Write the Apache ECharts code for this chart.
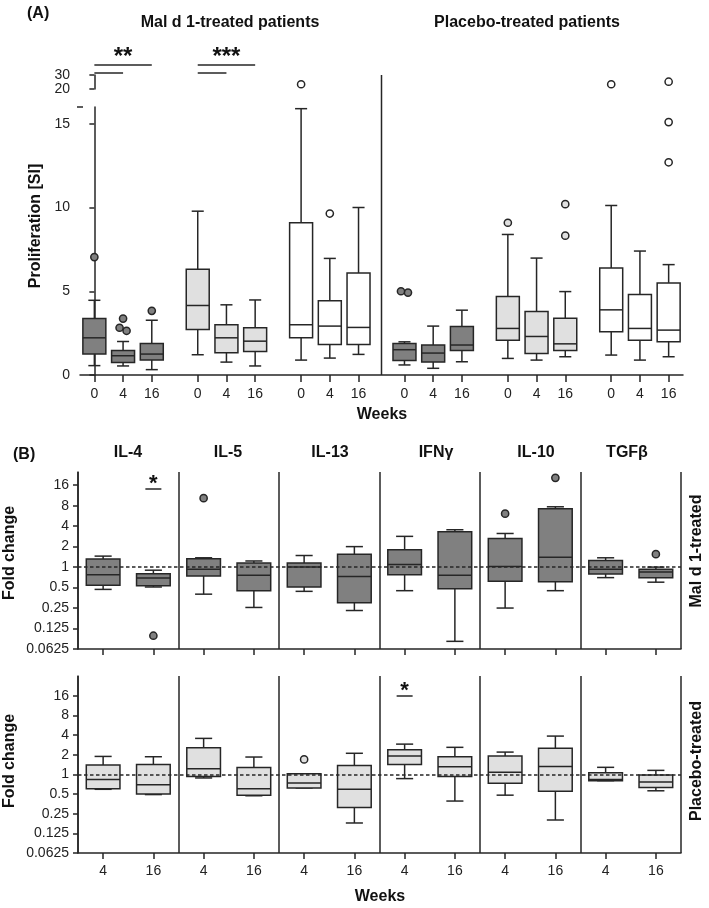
<!DOCTYPE html>
<html><head><meta charset="utf-8">
<script src="https://cdn.jsdelivr.net/npm/echarts@6/dist/echarts.min.js"></script>
<style>html,body{margin:0;padding:0;background:#fff}#c{width:709px;height:908px}</style>
</head><body><div id="c"></div>
<script>
// ================= DATA =================
// Panel A: proliferation [SI]; box stats = [min, Q1, median, Q3, max] for weeks 0, 4, 16
const weeksA = ['0', '4', '16'];
const malDark   = [[0.56,1.25,2.22,3.37,4.46],[0.54,0.75,1.15,1.47,2.00],[0.32,0.89,1.25,1.88,3.27]];
const malDarkOut   = [[7.04],[3.37,2.64,2.82],[3.83]];
const malLight  = [[1.21,2.72,4.15,6.31,9.78],[0.77,1.33,2.22,3.00,4.19],[0.54,1.41,2.02,2.82,4.48]];
const malLightOut  = [[],[],[]];
const malWhite  = [[0.89,2.22,3.00,9.09,15.9],[1.01,1.82,2.92,4.44,6.96],[1.23,1.82,2.84,6.09,10.0]];
const malWhiteOut  = [[23.4],[9.64],[]];
const plaDark   = [[0.60,0.87,1.51,1.88,1.98],[0.40,0.77,1.31,1.79,2.92],[0.79,1.47,1.79,2.90,3.87]];
const plaDarkOut   = [[4.92,5.00],[],[]];
const plaLight  = [[0.99,2.08,2.78,4.68,8.39],[0.89,1.29,2.30,3.79,6.98],[1.09,1.47,1.86,3.39,4.98]];
const plaLightOut  = [[9.09],[],[10.2,8.32]];
const plaWhite  = [[1.19,2.58,3.89,6.39,10.12],[0.89,2.08,2.78,4.80,7.40],[1.09,1.98,2.68,5.50,6.59]];
const plaWhiteOut  = [[23.4],[],[25.2,15.1,12.7]];
const yTicksA = [0, 5, 10, 15];
const yTicksABreak = [20, 30];

// Panel B: fold change; order: cytokine x (week 4, week 16)
const cytokines = ['IL-4','IL-5','IL-13','IFNγ','IL-10','TGFβ'];
const weeksB = ['4', '16'];
const malFold = [
  [0.47,0.54,0.77,1.31,1.45],[0.51,0.53,0.69,0.80,0.90],
  [0.40,0.74,0.93,1.33,1.37],[0.255,0.45,0.76,1.15,1.23],
  [0.44,0.51,1.00,1.15,1.48],[0.23,0.30,0.73,1.54,2.00],
  [0.45,0.77,1.09,1.80,2.83],[0.081,0.48,0.76,3.30,3.54],
  [0.25,0.62,1.02,2.64,3.12],[0.45,0.61,1.39,7.20,7.70],
  [0.70,0.79,0.93,1.25,1.37],[0.60,0.70,0.85,0.93,1.00]];
const malFoldOut = [[],[0.098],[10.3],[],[],[],[],[],[6.1],[20.5],[],[1.55]];
const placeboFold = [
  [0.59,0.60,0.83,1.39,1.88],[0.49,0.50,0.69,1.41,1.86],
  [0.88,0.93,1.22,2.56,3.55],[0.47,0.48,0.60,1.27,1.84],
  [0.62,0.62,0.74,1.02,1.02],[0.18,0.31,0.59,1.37,2.10],
  [0.86,1.41,1.90,2.38,2.90],[0.39,0.93,1.31,1.86,2.59],
  [0.48,0.73,1.08,1.90,2.19],[0.20,0.55,1.32,2.50,3.85],
  [0.80,0.80,0.83,1.06,1.28],[0.56,0.63,0.76,0.98,1.15]];
const placeboFoldOut = [[],[],[],[],[1.69],[],[],[],[],[],[],[]];
const yTicksB = [0.0625, 0.125, 0.25, 0.5, 1, 2, 4, 8, 16];

// ================= STYLE / LAYOUT =================
const FONT = 'Liberation Sans, Arial, Helvetica, sans-serif';
const INK = '#262626';
const FILLS = ['#808080', '#e0e0e0', '#ffffff'];
const LOW_MAX = 16;

const xPosA = (g, w) => g * 3.6 + w;
const xPosB = (c, w) => c + 0.25 + 0.5 * w;

const groupsA = [
  [malDark, malDarkOut, 0], [malLight, malLightOut, 1], [malWhite, malWhiteOut, 2],
  [plaDark, plaDarkOut, 0], [plaLight, plaLightOut, 1], [plaWhite, plaWhiteOut, 2]
];

function makeRenderBox(boxW, capW, fill, lw) {
  return function (params, api) {
    const x = api.value(0);
    const pMin = api.coord([x, api.value(1)]);
    const pQ1 = api.coord([x, api.value(2)]);
    const pMed = api.coord([x, api.value(3)]);
    const pQ3 = api.coord([x, api.value(4)]);
    const pMax = api.coord([x, api.value(5)]);
    const l = api.coord([x - boxW / 2, api.value(3)])[0];
    const r = api.coord([x + boxW / 2, api.value(3)])[0];
    const cl = api.coord([x - capW / 2, api.value(3)])[0];
    const cr = api.coord([x + capW / 2, api.value(3)])[0];
    const cx = pMed[0];
    const st = { stroke: INK, lineWidth: lw };
    return { type: 'group', children: [
      { type: 'line', shape: { x1: cx, y1: pMax[1], x2: cx, y2: pQ3[1] }, style: st },
      { type: 'line', shape: { x1: cx, y1: pQ1[1], x2: cx, y2: pMin[1] }, style: st },
      { type: 'line', shape: { x1: cl, y1: pMax[1], x2: cr, y2: pMax[1] }, style: st },
      { type: 'line', shape: { x1: cl, y1: pMin[1], x2: cr, y2: pMin[1] }, style: st },
      { type: 'rect', shape: { x: l, y: pQ3[1], width: r - l, height: pQ1[1] - pQ3[1] }, style: { fill: fill, stroke: INK, lineWidth: lw } },
      { type: 'line', shape: { x1: l, y1: pMed[1], x2: r, y2: pMed[1] }, style: st }
    ]};
  };
}

function makeRenderOut(items, fill) {
  return function (params, api) {
    const x = api.value(0), v = api.value(1);
    const p = api.coord([x, v]);
    const sib = items.filter(d => d[0] === x).map(d => ({ v: d[1], y: api.coord([x, d[1]])[1] }))
      .sort((a, b) => a.y - b.y);
    const clusters = [];
    sib.forEach(s => {
      const last = clusters[clusters.length - 1];
      if (last && Math.abs(s.y - last[last.length - 1].y) < 8) last.push(s); else clusters.push([s]);
    });
    let off = 0;
    clusters.forEach(cl => {
      const idx = cl.findIndex(s => s.v === v);
      if (idx >= 0) off = (idx - (cl.length - 1) / 2) * 7;
    });
    return { type: 'circle', shape: { cx: p[0] + off, cy: p[1], r: 3.6 },
      style: { fill: fill, stroke: INK, lineWidth: 1.5 } };
  };
}

const series = [];
// Panel A
groupsA.forEach(([boxes, outs, fi], g) => {
  const data = boxes.map((b, w) => [xPosA(g, w)].concat(b));
  series.push({ type: 'custom', xAxisIndex: 0, yAxisIndex: 0, data: data,
    encode: { x: 0, y: [1, 2, 3, 4, 5] }, renderItem: makeRenderBox(0.8, 0.42, FILLS[fi], 1.5), z: 3 });
  const lowOut = [], highOut = [];
  outs.forEach((arr, w) => arr.forEach(v => (v > LOW_MAX ? highOut : lowOut).push([xPosA(g, w), v])));
  if (lowOut.length) series.push({ type: 'custom', xAxisIndex: 0, yAxisIndex: 0, data: lowOut,
    encode: { x: 0, y: 1 }, renderItem: makeRenderOut(lowOut, FILLS[fi]), z: 4 });
  if (highOut.length) series.push({ type: 'custom', xAxisIndex: 1, yAxisIndex: 1, data: highOut,
    encode: { x: 0, y: 1 }, renderItem: makeRenderOut(highOut, FILLS[fi]), z: 4 });
});
// Panel B
[[malFold, malFoldOut, 0, 2], [placeboFold, placeboFoldOut, 1, 3]].forEach(([boxes, outs, fi, gi]) => {
  const data = boxes.map((b, i) => [xPosB(Math.floor(i / 2), i % 2)].concat(b));
  series.push({ type: 'custom', xAxisIndex: gi, yAxisIndex: gi, data: data,
    encode: { x: 0, y: [1, 2, 3, 4, 5] }, renderItem: makeRenderBox(0.335, 0.17, FILLS[fi], 1.5), z: 3 });
  const od = [];
  outs.forEach((arr, i) => arr.forEach(v => od.push([xPosB(Math.floor(i / 2), i % 2), v])));
  if (od.length) series.push({ type: 'custom', xAxisIndex: gi, yAxisIndex: gi, data: od,
    encode: { x: 0, y: 1 }, renderItem: makeRenderOut(od, FILLS[fi]), z: 4 });
  series.push({ type: 'line', xAxisIndex: gi, yAxisIndex: gi, data: [], z: 6,
    markLine: { silent: true, symbol: 'none', label: { show: false }, animation: false,
      lineStyle: { type: [3.5, 2.5], color: INK, width: 1.5 }, data: [{ yAxis: 1 }] } });
});

const posA = [];
groupsA.forEach((_, g) => weeksA.forEach((_, w) => posA.push(xPosA(g, w))));
const labelA = v => { for (let g = 0; g < 6; g++) for (let w = 0; w < 3; w++) if (Math.abs(xPosA(g, w) - v) < 0.01) return weeksA[w]; return ''; };
const posB = [];
cytokines.forEach((_, c) => weeksB.forEach((_, w) => posB.push(xPosB(c, w))));
const labelB = v => { for (let c = 0; c < 6; c++) for (let w = 0; w < 2; w++) if (Math.abs(xPosB(c, w) - v) < 0.01) return weeksB[w]; return ''; };

const axLine = { show: true, lineStyle: { color: INK, width: 1.5 } };
const tickSt = { lineStyle: { color: INK, width: 1.5 } };
const lblSt = { color: '#222', fontFamily: FONT, fontSize: 14 };

const option = {
  animation: false,
  backgroundColor: '#fff',
  grid: [
    { left: 80, right: 26, top: 107, height: 268 },
    { left: 80, right: 26, top: 75, height: 14 },
    { left: 78, right: 28, top: 472, height: 177 },
    { left: 78, right: 28, top: 676, height: 177 }
  ],
  xAxis: [
    { gridIndex: 0, type: 'value', min: -0.5, max: 20.5, position: 'bottom', axisLine: axLine,
      axisTick: Object.assign({ show: true, length: 7, customValues: posA }, tickSt),
      axisLabel: Object.assign({ show: true, margin: 12, customValues: posA, formatter: labelA }, lblSt),
      splitLine: { show: false } },
    { gridIndex: 1, type: 'value', min: -0.5, max: 20.5, show: false },
    { gridIndex: 2, type: 'value', min: 0, max: 6, position: 'bottom', axisLine: axLine,
      axisTick: Object.assign({ show: true, length: 6, customValues: posB }, tickSt),
      axisLabel: { show: false }, splitLine: { show: false } },
    { gridIndex: 3, type: 'value', min: 0, max: 6, position: 'bottom', axisLine: axLine,
      axisTick: Object.assign({ show: true, length: 6, customValues: posB }, tickSt),
      axisLabel: Object.assign({ show: true, margin: 11, customValues: posB, formatter: labelB }, lblSt),
      splitLine: { show: false } },
    { gridIndex: 2, type: 'value', min: 0, max: 6, interval: 1, position: 'top', axisLine: { show: false },
      axisTick: { show: false }, axisLabel: { show: false },
      splitLine: { show: true, lineStyle: { color: INK, width: 1.5 } } },
    { gridIndex: 3, type: 'value', min: 0, max: 6, interval: 1, position: 'top', axisLine: { show: false },
      axisTick: { show: false }, axisLabel: { show: false },
      splitLine: { show: true, lineStyle: { color: INK, width: 1.5 } } }
  ],
  yAxis: [
    { gridIndex: 0, type: 'value', min: 0, max: LOW_MAX, axisLine: axLine,
      axisTick: Object.assign({ show: true, length: 5, customValues: yTicksA }, tickSt),
      axisLabel: Object.assign({ margin: 10, customValues: yTicksA }, lblSt), splitLine: { show: false } },
    { gridIndex: 1, type: 'value', min: 20, max: 30, interval: 10, axisLine: axLine,
      axisTick: Object.assign({ show: true, length: 5, customValues: yTicksABreak }, tickSt),
      axisLabel: Object.assign({ margin: 10, customValues: yTicksABreak }, lblSt), splitLine: { show: false } },
    { gridIndex: 2, type: 'log', logBase: 2, min: 0.0625, max: 25, axisLine: axLine,
      axisTick: Object.assign({ show: true, length: 5, customValues: yTicksB }, tickSt),
      axisLabel: Object.assign({ margin: 9, customValues: yTicksB, formatter: v => String(+(+v).toPrecision(6)) }, lblSt),
      splitLine: { show: false } },
    { gridIndex: 3, type: 'log', logBase: 2, min: 0.0625, max: 32, axisLine: axLine,
      axisTick: Object.assign({ show: true, length: 5, customValues: yTicksB }, tickSt),
      axisLabel: Object.assign({ margin: 9, customValues: yTicksB, formatter: v => String(+(+v).toPrecision(6)) }, lblSt),
      splitLine: { show: false } }
  ],
  series: series
};

const chart = echarts.init(document.getElementById('c'), null, { renderer: 'canvas' });
chart.setOption(option);

// ================= ANNOTATIONS (texts, dividers, significance) =================
const px = (gi, x, y) => chart.convertToPixel({ gridIndex: gi }, [x, y]);
const T = (text, x, y, size, opts) => Object.assign({ type: 'text', x: x, y: y, z: 10,
  style: { text: text, fontFamily: FONT, fontSize: size, fontWeight: 'bold', fill: '#111', align: 'center', verticalAlign: 'middle' } }, opts || {});
const L = (x1, y1, x2, y2, w) => ({ type: 'line', z: 10, shape: { x1, y1, x2, y2 }, style: { stroke: INK, lineWidth: w || 1.5 } });

const g = [];
g.push(T('(A)', 27, 14, 16, { style: { text: '(A)', fontFamily: FONT, fontSize: 16, fontWeight: 'bold', fill: '#111', align: 'left', verticalAlign: 'middle' } }));
g.push(T('Mal d 1-treated patients', 230, 23, 16));
g.push(T('Placebo-treated patients', 527, 23, 16));
g.push(T('Proliferation [SI]', 36, 226, 16, { rotation: Math.PI / 2 }));
g.push(T('Weeks', 382, 415, 16));
// divider between treatment groups (panel A)
const divX = px(0, 10, 0)[0];
g.push(L(divX, 75, divX, 375));
// cap on top of the broken lower axis
const topLow = px(0, -0.5, LOW_MAX);
g.push(L(topLow[0] - 3, topLow[1], topLow[0] + 3, topLow[1]));
// significance bars panel A
[[0, '**'], [1, '***']].forEach(([grp, stars]) => {
  const a = px(0, xPosA(grp, 0), 0)[0], b = px(0, xPosA(grp, 1), 0)[0], c = px(0, xPosA(grp, 2), 0)[0];
  g.push(L(a, 65, c, 65));
  g.push(L(a, 73, b, 73));
  g.push(T(stars, b, 57, 24));
});

// Panel B texts
g.push(T('(B)', 13, 455, 16, { style: { text: '(B)', fontFamily: FONT, fontSize: 16, fontWeight: 'bold', fill: '#111', align: 'left', verticalAlign: 'middle' } }));
const titleX = [128, 228, 330, 436, 536, 627];
cytokines.forEach((c, i) => g.push(T(c, titleX[i], 453, 16)));
g.push(T('Fold change', 10, 553, 16, { rotation: Math.PI / 2 }));
g.push(T('Fold change', 10, 761, 16, { rotation: Math.PI / 2 }));
g.push(T('Mal d 1-treated', 697, 551, 16, { rotation: Math.PI / 2 }));
g.push(T('Placebo-treated', 697, 761, 16, { rotation: Math.PI / 2 }));
g.push(T('Weeks', 380, 897, 16));
// significance stars panel B
const s1 = px(2, xPosB(0, 1), 1)[0];
g.push(L(s1 - 8, 489, s1 + 8, 489));
g.push(T('*', s1, 484, 22));
const s2 = px(3, xPosB(3, 0), 1)[0];
g.push(L(s2 - 8, 696, s2 + 8, 696));
g.push(T('*', s2, 691, 22));

chart.setOption({ graphic: { elements: g } });
</script>
</body></html>
